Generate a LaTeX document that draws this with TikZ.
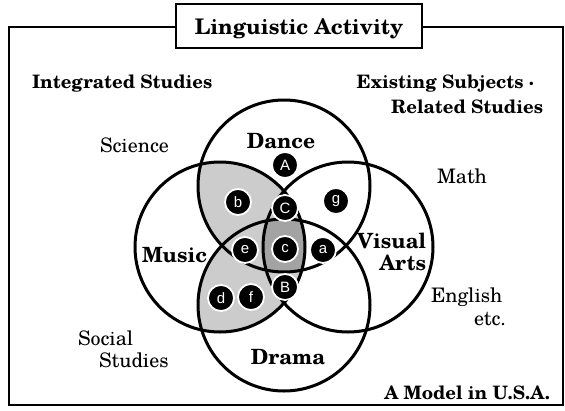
\documentclass[tikz,border=0pt]{standalone}
\usepackage{fontspec}
\setmainfont{TeX Gyre Schola}
\newfontfamily\lettersf{Liberation Sans}
\definecolor{lightg}{HTML}{CCCCCC}
\definecolor{darkg}{HTML}{A3A3A3}
\begin{document}
\begin{tikzpicture}[x=1pt,y=-1pt,
  every node/.style={inner sep=0pt, outer sep=0pt},
  titlefont/.style={font=\bfseries\fontsize{21.5}{24}\selectfont},
  head/.style={font=\bfseries\fontsize{18.5}{21}\selectfont},
  circlab/.style={font=\bfseries\fontsize{21}{23}\selectfont},
  subj/.style={font=\fontsize{20}{22}\selectfont},
  ring/.style={line width=3pt},
  framel/.style={line width=1.5pt},
  tag/.style={circle, fill=black, draw=white, line width=1.8pt, minimum size=26pt,
    text=white, font=\lettersf\fontsize{15}{15}\selectfont}]
\useasboundingbox (0,0) rectangle (565,410);
% centres
\coordinate (cD) at (284,186);
\coordinate (cR) at (284,305);
\coordinate (cM) at (220,247);
\coordinate (cV) at (348,247);
% frame
\coordinate (fTL) at (9,27);
\coordinate (fBR) at (563,405);
\node[draw, framel, minimum width=246pt, minimum height=44pt, anchor=north west] (title) at (176,4) {};
\draw[framel] (title.west |- fTL) -- (fTL) |- (fBR) |- (title.east |- fTL);
\node[titlefont, anchor=base] (titletext) at (299,34) {Linguistic Activity};
% shading
\begin{scope}
  \clip (cM) circle[radius=85pt];
  \fill[lightg] (cD) circle[radius=86pt];
  \fill[lightg] (cR) circle[radius=86pt];
\end{scope}
\begin{scope}
  \clip (cM) circle[radius=85pt];
  \clip (cV) circle[radius=85pt];
  \clip (cD) circle[radius=86pt];
  \fill[darkg] (cR) circle[radius=86pt];
\end{scope}
% circles
\draw[ring] (cD) circle[radius=86pt];
\draw[ring] (cR) circle[radius=86pt];
\draw[ring] (cM) circle[radius=85pt];
\draw[ring] (cV) circle[radius=85pt];
% tags
\node[tag] (tA) at (285,165) {A};
\node[tag] (tb) at (238,202) {b};
\node[tag] (tC) at (285,208) {C};
\node[tag] (tg) at (336,201) {g};
\node[tag] (te) at (245,250) {e};
\node[tag] (tc) at (285,249) {c};
\node[tag] (ta) at (323,250) {a};
\node[tag] (tB) at (285,287) {B};
\node[tag] (td) at (221,298) {d};
\node[tag] (tf) at (251,297) {f};
% labels
\node[head, anchor=base west] (integ) at (32,88) {Integrated Studies};
\node[head, anchor=base east] (exist) at (534,88) {Existing Subjects ·};
\node[head, anchor=base east] (relat) at (543,113) {Related Studies};
\node[subj, anchor=base west] (sci) at (100,152) {Science};
\node[subj, anchor=base west] (math) at (437,183) {Math};
\node[subj, anchor=base west] (eng) at (431,302) {English};
\node[subj, anchor=base east] (etc) at (506,325) {etc.};
\node[subj, anchor=base west] (soc) at (78,345) {Social};
\node[subj, anchor=base west] (socst) at (99,367) {Studies};
\node[circlab, anchor=base] (dance) at (281,148) {Dance};
\node[circlab, anchor=base east] (music) at (207,262) {Music};
\node[circlab, anchor=base east] (vis) at (426,248) {Visual};
\node[circlab, anchor=base east] (arts) at (426,270) {Arts};
\node[circlab, anchor=base] (drama) at (288,364) {Drama};
\node[head, anchor=base east] (model) at (550,399) {A Model in U.S.A.};
\end{tikzpicture}
\end{document}
